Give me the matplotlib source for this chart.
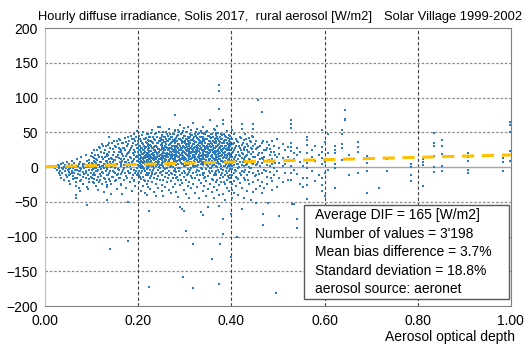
import matplotlib.pyplot as plt
from matplotlib.patches import Rectangle

plt.rcParams['font.family'] = ['Liberation Sans', 'DejaVu Sans']

# Hourly differences (Solis modelled - measured diffuse) [W/m2], grouped by AERONET AOD
clean_hours = {
    0.021: [-2], 0.024: [1], 0.026: [-4], 0.028: [3], 0.029: [-1], 0.031: [-8, 2],
    0.033: [-12, -5], 0.035: [4, -15], 0.037: [-1, -9], 0.039: [6, -3], 0.041: [-18, 0],
    0.043: [-6, 3], 0.045: [-11, -2], 0.047: [7, -14], 0.049: [-4, 1], 0.051: [-20, -7, 5],
    0.054: [-1, -10, -25], 0.057: [3, -5, 9], 0.060: [-13, -2, -17], 0.063: [0, 6, -8],
    0.066: [-22, 2, -27, -40, -45], 0.069: [-4, 11, -15], 0.072: [-6, 4, -30],
    0.075: [-1, -12, -35, 8], 0.078: [-3, -19, 14], 0.081: [-7, 1, -24], 0.084: [5, -10, -2],
    0.087: [18, -16, -5], 0.090: [3, -28, 9], 0.093: [-31, -11, 0], 0.095: [-21, 6, -4],
    0.098: [16, -14, -8],
    0.052: [-3, -12], 0.058: [-8, 2], 0.064: [-15, -4], 0.070: [-10, 1], 0.076: [-6, -20],
    0.082: [-14, 4], 0.088: [-9, 0], 0.094: [-17, 10],
    0.102: [4, -12, 15, -3, -22], 0.106: [-8, 9, -17, 1, 24], 0.110: [-1, -27, 12, -6, 6],
    0.114: [17, -14, 3, -33, -4], 0.118: [-10, 8, 27, -19, 0], 0.122: [2, -7, 33, 14, -25],
    0.126: [-15, 5, -2, 20, -36], 0.130: [9, -21, 30, -5, 1], 0.134: [-3, 16, -11, -29, 7],
    0.138: [44, 11, -8, 22, -17, 35], 0.142: [0, -24, 13, -39, 5], 0.146: [26, -6, -14, 8, 18],
    0.150: [-2, 31, -20, 10, -9], 0.154: [15, -31, 4, -12, 37], 0.158: [40, 13, 21, -4, -16, 28],
    0.162: [6, -10, 25, -26, 1], 0.166: [-7, 19, -39, 9, 34], 0.170: [12, -18, 3, 28, -2],
    0.174: [-13, 36, 7, -30, 16], 0.178: [43, 33, 20, -5, 10], 0.182: [2, 24, -22, 14, -9],
    0.186: [30, -15, 8, -35, 41], 0.190: [-4, 18, 48, -19, 11, 3], 0.194: [22, -8, 37, -27, 5],
    0.198: [9, 52, -12, 27, -1, 16],
    0.100: [6, -15, 20, -4], 0.104: [-9, 13, 2, -23], 0.108: [18, -2, -12, 8],
    0.112: [-6, 25, 10, -18], 0.116: [3, -21, 14, 29], 0.120: [-13, 7, 22, -3],
    0.124: [11, -8, 30, 1], 0.128: [24, -17, 5, 15], 0.132: [-1, 19, -26, 9],
    0.136: [32, 4, -11, 17], 0.140: [8, 27, -5, -20], 0.144: [-14, 12, 35, 2],
    0.148: [21, -7, 10, 38], 0.152: [5, 29, -19, 14], 0.156: [-3, 18, 33, -10],
    0.160: [26, 7, -15, 39], 0.164: [12, -24, 22, 3], 0.168: [35, -4, 16, 27],
    0.172: [-9, 24, 8, 42], 0.176: [19, 2, 31, -16], 0.180: [6, 38, -8, 22],
    0.184: [27, 13, 45, -3], 0.188: [-12, 20, 34, 9], 0.192: [40, 5, 25, -20],
    0.196: [15, 32, -6, 44],
}

moderate_hours = {
    0.202: [12, -5, 30, 2, -22, 18, 45, -11, 7, 24],
    0.206: [-2, 21, 9, -34, 38, 14, -8, 27, 3, -17],
    0.210: [33, 6, -14, 19, -1, 50, 11, -27, 25, 0],
    0.214: [8, -20, 16, 41, -6, 28, -38, 13, 4, 22],
    0.218: [-9, 35, 1, 20, -25, 10, 47, -3, 17, -40],
    0.222: [26, -12, 5, 39, 15, -29, 0, 31, 9, 20],
    0.226: [3, 44, -16, 23, 11, -4, 32, -31, 18, 7],
    0.230: [19, -7, 36, 2, -21, 27, 13, 53, -10, 6],
    0.234: [-15, 24, 10, -36, 40, 4, 17, -2, 29, 14],
    0.238: [30, 8, -24, 15, 49, -9, 21, 1, -41, 12],
    0.242: [5, 57, -13, 26, 9, -30, 34, 16, -4, 20],
    0.246: [58, 18, -1, 37, 11, -19, 25, 3, 42, -8],
    0.250: [14, -26, 29, 6, 45, -11, 19, -35, 10, 33],
    0.254: [-5, 22, 39, 13, -18, 2, 51, 27, -42, 8],
    0.258: [36, 9, -14, 24, 16, -3, 43, -28, 31, 11],
    0.262: [20, -8, 47, 4, 28, -22, 14, 38, -1, 17],
    0.266: [-12, 32, 10, -33, 25, 55, 7, -5, 19, 41],
    0.270: [27, 13, -20, 44, 2, 35, -9, 21, 16, -38],
    0.274: [6, 48, 23, -16, 30, 12, -29, 39, 0, 18],
    0.278: [15, -4, 34, 9, -24, 26, 52, 11, -12, 22],
    0.282: [31, -7, 19, 42, -36, 8, 24, -15, 37, 3],
    0.286: [-2, 28, 54, 14, -19, 33, 5, -43, 22, 46],
    0.290: [17, 40, 9, -11, 25, 60, -1, 30, -26, 12],
    0.294: [35, 4, -23, 18, 49, -8, 13, 27, 38, 20],
    0.298: [10, 45, -14, 29, -33, 21, 1, 56, 15, -5],
    0.302: [24, 7, 41, -18, 32, 12, -39, 19, 50, 3],
    0.306: [26, -10, 37, 3, 58, -27, 16, 44, -3, 9],
    0.310: [43, 14, -21, 30, 6, -44, 22, 35, -7, 18],
    0.314: [-13, 39, 8, 53, 20, -2, 27, -30, 11, 46],
    0.318: [63, 17, -25, 33, 5, 40, -9, 24, 1, 14],
    0.322: [29, 12, 47, -16, 22, 36, -37, 7, 15, 2],
    0.326: [21, -4, 55, 10, -28, 31, 2, 42, -12, 26],
    0.330: [8, 34, -19, 18, 49, -6, 13, 39, -45, 23],
    0.334: [27, 4, 44, 16, -23, 35, 9, -1, 52, 12],
    0.338: [30, -11, 20, 57, -34, 14, 25, 3, 41, 7],
    0.342: [12, 48, -8, 23, 6, -27, 37, 18, -15, 31],
    0.346: [40, -3, 15, 28, -41, 10, 51, 22, -20, 5],
    0.350: [19, 33, 1, 45, -13, 26, 8, -31, 16, 29],
    0.354: [68, 11, -9, 38, 21, -24, 4, 30, -2, 43],
    0.358: [25, 9, -36, 47, 14, -6, 33, 18, -17, 1],
    0.362: [3, 36, 20, -12, 55, -29, 11, 27, -44, 7],
    0.366: [29, -5, 42, 13, -22, 34, 2, 49, -10, 17],
    0.370: [15, 31, -18, 6, 44, -33, 23, 10, 59, 0],
    0.374: [21, -7, 37, 12, -26, 28, 4, 16, -40, 33],
    0.378: [16, 40, -3, 25, -21, 9, 48, 1, 30, -12],
    0.382: [62, 68, 20, -14, 34, 7, -39, 26, 13, -4],
    0.386: [9, 45, -25, 18, 2, 31, -11, 39, 22, -47],
    0.390: [24, -8, 14, 52, -30, 6, 35, -1, 17, -19],
    0.394: [-6, 38, 11, -35, 27, 4, 46, -15, 20, 30],
    0.398: [19, 1, 33, -22, 8, 41, -12, 25, 14, -3],
}

# second pass of hours in the busiest AOD range (mostly positive bias)
moderate_hours_b = {
    0.200: [14, 28, 3, 38, -9, 21, 9, 33], 0.204: [25, 6, 41, 17, -14, 30, 11, 0],
    0.208: [2, 35, 19, 8, 46, -6, 27, 13], 0.212: [31, 15, -3, 24, 9, 40, -18, 20],
    0.216: [18, 42, 7, 29, -11, 14, 36, 4], 0.220: [10, 25, 47, -1, 19, 33, 6, -20],
    0.224: [37, 13, 22, 2, 44, -8, 28, 16], 0.228: [5, 30, 15, 49, -13, 23, 9, 38],
    0.232: [27, -4, 34, 12, 20, 43, 1, 17], 0.236: [12, 39, 24, -10, 31, 6, 48, 21],
    0.240: [44, 19, 3, 29, 14, -17, 35, 8], 0.244: [22, 8, 37, 16, 51, 0, 26, 12],
    0.248: [3, 32, 18, 42, -7, 24, 13, 39], 0.252: [35, 17, 26, 5, 46, 11, -12, 30],
    0.256: [16, 43, 7, 28, 20, 36, -2, 24], 0.260: [29, 10, 40, 19, -9, 33, 14, 50],
    0.264: [8, 27, 15, 45, 24, 3, 37, -15], 0.268: [41, 21, 33, 11, 0, 28, 17, 47],
    0.272: [19, 36, 5, 26, 43, -10, 31, 14], 0.276: [30, 12, 48, 22, 9, 38, -5, 25],
    0.280: [13, 40, 27, -3, 34, 18, 53, 6], 0.284: [37, 22, 9, 45, 16, 29, -14, 31],
    0.288: [24, 50, 14, 33, -6, 20, 41, 10], 0.292: [6, 28, 39, 18, 47, 12, 25, -19],
    0.296: [42, 16, 31, 4, 23, 36, 11, 52], 0.300: [20, 34, -8, 27, 45, 13, 38, 2],
    0.304: [33, 9, 23, 50, 17, -12, 29, 40], 0.308: [11, 37, 25, 14, 42, 5, 32, 19],
    0.312: [28, 48, 16, -4, 35, 22, 8, 44], 0.316: [39, 21, 6, 30, 13, 46, -16, 26],
    0.320: [17, 33, 43, 9, 27, 0, 38, 21], 0.324: [45, 12, 29, 19, -7, 36, 24, 51],
    0.328: [23, 40, 8, 32, 15, 47, 3, 28], 0.332: [10, 26, 37, 20, 44, -11, 30, 16],
    0.336: [36, 18, 49, 7, 25, 33, 12, -3], 0.340: [21, 43, 14, 30, -9, 39, 22, 5],
    0.344: [29, 8, 35, 47, 18, 26, -14, 41], 0.348: [14, 31, 22, 3, 40, 17, 52, 27],
    0.352: [38, 24, -6, 33, 11, 45, 20, 9], 0.356: [7, 29, 42, 16, 34, -1, 25, 48],
    0.360: [26, 13, 37, 21, 4, 31, 44, -18], 0.364: [41, 19, 28, -8, 35, 10, 23, 53],
    0.368: [16, 34, 6, 46, 22, 30, -12, 38], 0.372: [32, 8, 40, 25, 14, 49, 19, -4],
    0.376: [20, 44, 12, 29, -15, 36, 27, 5], 0.380: [9, 31, 23, 41, 17, -9, 34, 46],
    0.384: [35, 15, 47, 2, 28, 20, 38, -21], 0.388: [13, 26, 5, 39, 18, 43, -6, 30],
    0.392: [28, 42, 19, 10, 33, -13, 24, 1], 0.396: [17, 36, 4, 25, 45, 9, -16, 31],
}

turbid_hours = {
    0.402: [53, 40, 28, 15, 6, -3, -12, -24, -33, -45, 20, 2],
    0.406: [35, 12, -8, -20, 25, -38, 3, 47], 0.410: [18, -5, 30, -27, 9, 41, -14],
    0.414: [-2, 22, -40, 11, 36, -17, 5], 0.418: [44, 7, -23, 16, -9, 27],
    0.422: [62, 55, 13, -6, 32, -30, 3, 20], 0.426: [-15, 25, 1, 39, -44, 10],
    0.430: [8, -19, 29, 48, -4, 15], 0.434: [33, -11, 17, -35, 4, 24],
    0.438: [-7, 42, 12, -25, 21, 0], 0.442: [19, -2, 36, -48, 9, 27],
    0.447: [62, 55, 43, 30, 14, -8, -22, 5, -36, 22], 0.452: [-12, 26, 3, -31, 38],
    0.457: [17, -5, 29, -18, 8], 0.462: [31, -27, 11, 2],
    0.466: [34, 20, 6, -9, -21, -37, 13], 0.470: [24, -4, 15, -30, 9],
    0.476: [28, -14, 3, 36, -25], 0.482: [18, -7, 26, 1], 0.488: [12, 37, -20, 5, -33],
    0.492: [22, -1, 31, -12, 8], 0.497: [-28, 14, 40, -6], 0.503: [19, -15, 6, 27],
    0.404: [22, 9, 33], 0.408: [-4, 28, 14], 0.412: [38, 5, -15], 0.416: [17, 30, 0],
    0.420: [-11, 24, 42], 0.424: [8, 35, 19], 0.428: [27, -7, 12], 0.432: [41, 16, 3],
    0.436: [-18, 22, 31], 0.440: [10, 37, -2], 0.444: [26, 6, 45], 0.450: [15, -13, 33],
    0.455: [4, 28], 0.460: [20, -10], 0.468: [38, 12], 0.474: [-6, 25], 0.480: [10, 32],
    0.486: [-15, 21], 0.494: [6, 17],
    0.510: [33, 2, -22, 13], 0.516: [-9, 24, 5], 0.522: [15, -18, 29],
    0.529: [68, 62, 56, 35, 29, 23, 1, -8, -19], 0.535: [12, -4, 20],
    0.541: [17, -10, 28], 0.548: [8, -25, 21], 0.554: [-16, -28, 2],
    0.563: [44, 39, 32, 20, 6, -1, -16, -26, -46], 0.572: [15, -6, 25],
    0.580: [9, -20, 30], 0.587: [-11, 18], 0.595: [54, 29, 22, 13, -16, -26, 5, -35],
    0.601: [36, 8, -9, -42], 0.608: [48, 20, -4], 0.622: [30, 25, 20, 4, -1, -30],
    0.638: [53, 48, 33, 28, 10], 0.643: [82, 69, 68], 0.652: [-12, 18],
    0.672: [36, 29, 21, -8], 0.690: [16, 6, -6, -38], 0.717: [-30], 0.735: [12, -5],
    0.786: [5, 0, -12, -20], 0.812: [11, 8, 3, -27], 0.834: [49, 35, 30, 16, 0, -7],
    0.851: [39, 30, 19, 1, -5], 0.907: [20, 14, 9, -4, -9], 0.984: [13, 7, -5],
    0.998: [65, 60, 51, 23, 9],
}

# isolated large deviations
outliers = [
    (0.091, -54), (0.133, -47), (0.140, -118), (0.165, -39), (0.177, -50), (0.178, -107),
    (0.219, -40), (0.224, -63), (0.224, -173), (0.278, 75), (0.290, -57), (0.294, -61),
    (0.298, -63), (0.296, -158), (0.303, -92), (0.317, -110), (0.317, -174), (0.334, -65),
    (0.340, -69), (0.350, -58), (0.359, -132), (0.374, 118), (0.374, 110), (0.374, 84),
    (0.374, -56), (0.375, -110), (0.373, -168), (0.381, -74), (0.381, -97), (0.400, -67),
    (0.400, -130), (0.413, -101), (0.422, -61), (0.457, 96), (0.466, 79), (0.467, -67),
    (0.467, -83), (0.452, -52), (0.478, -52), (0.503, -70), (0.495, -181), (0.530, -53),
    (0.535, -53), (0.541, -74), (0.541, -88), (0.563, -46),
]

# linear trend of the differences vs AOD
trend_intercept = 0.5
trend_slope = 17.0

stats_lines = [
    "Average DIF = 165 [W/m2]",
    "Number of values = 3'198",
    "Mean bias difference = 3.7%",
    "Standard deviation = 18.8%",
    "aerosol source: aeronet",
]


def flatten(groups, extra):
    xs, ys = [], []
    for grp in groups:
        for aod, diffs in grp.items():
            xs += [aod] * len(diffs)
            ys += diffs
    for aod, d in extra:
        xs.append(aod)
        ys.append(d)
    return xs, ys


def main():
    xs, ys = flatten([clean_hours, moderate_hours, moderate_hours_b, turbid_hours], outliers)

    fig = plt.figure(figsize=(5.30, 3.47), dpi=100)
    ax = fig.add_axes([0.085, 0.118, 0.879, 0.801])

    ax.set_xlim(0, 1)
    ax.set_ylim(-200, 200)
    ax.set_xticks([0, 0.2, 0.4, 0.6, 0.8, 1.0])
    ax.set_xticklabels([f"{v:.2f}" for v in ax.get_xticks()])
    ax.set_yticks(range(-200, 201, 50))
    ax.tick_params(length=0, labelsize=10, colors='#000000')
    ax.tick_params(axis='y', pad=5)
    ax.tick_params(axis='x', pad=6)

    # grid: dotted horizontals, dashed verticals, solid zero line
    for yv in (-150, -100, -50, 50, 100, 150):
        ax.axhline(yv, color='#8c8c8c', lw=0.9, ls=(0, (2, 1.5)), zorder=1)
    for xv in (0.2, 0.4, 0.6, 0.8):
        ax.axvline(xv, color='#404040', lw=0.8, ls=(0, (3, 2)), zorder=1)
    ax.axhline(0, color='#a6a6a6', lw=1.0, zorder=1)

    for side in ('top', 'right', 'bottom'):
        ax.spines[side].set_color('#808080')
    ax.spines['left'].set_color('#bfbfbf')

    ax.plot(xs, ys, ls='none', marker='s', ms=2.1, mew=0, color='#2b7bc0', zorder=2)

    ax.plot([0, 1], [trend_intercept, trend_intercept + trend_slope],
            color='#ffc000', lw=2.2, ls=(0, (4, 2.5)), zorder=3)

    # statistics box
    ax.add_patch(Rectangle((0.556, 0.025), 0.44, 0.338, transform=ax.transAxes,
                           facecolor='white', edgecolor='#595959', lw=1.0, zorder=4))
    for i, line in enumerate(stats_lines):
        ax.text(0.58, 0.327 - i * 0.0665, line, transform=ax.transAxes,
                fontsize=10, va='center', ha='left', zorder=5)

    fig.text(0.072, 0.951, "Hourly diffuse irradiance, Solis 2017,  rural aerosol [W/m2]",
             fontsize=9.3, va='center', ha='left')
    fig.text(0.985, 0.951, "Solar Village 1999-2002", fontsize=9.3, va='center', ha='right')
    fig.text(0.972, 0.008, "Aerosol optical depth", fontsize=10, va='bottom', ha='right')

    fig.savefig("out.png", dpi=100)
    plt.close(fig)


if __name__ == "__main__":
    main()
